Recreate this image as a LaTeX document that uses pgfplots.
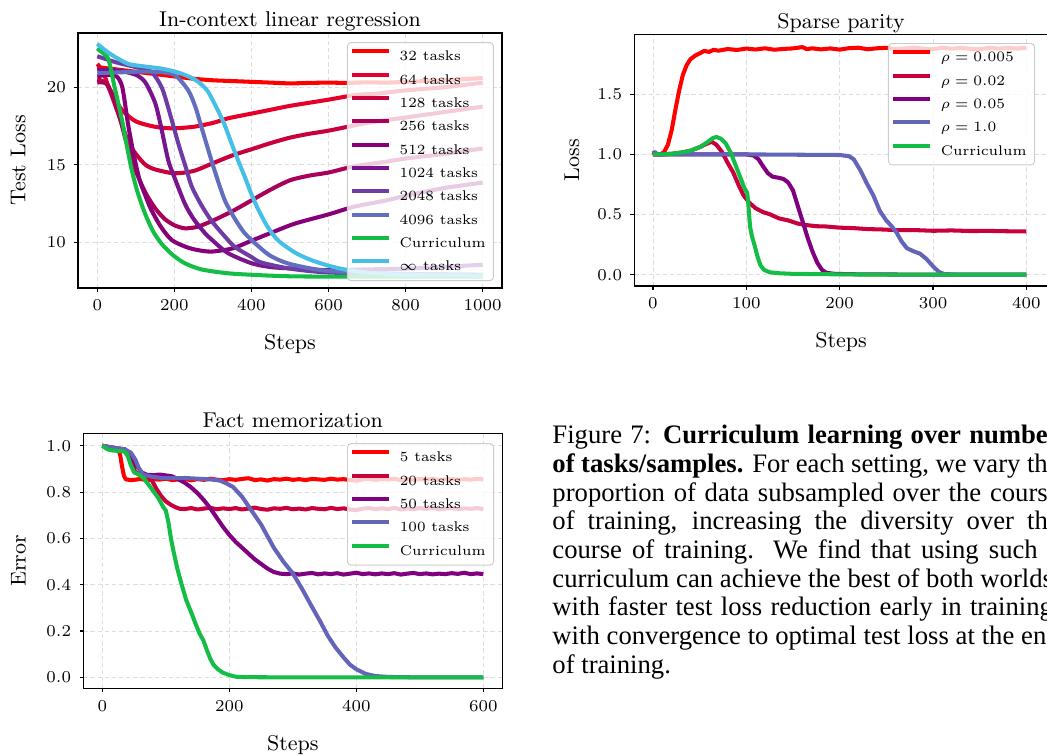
\documentclass[border=0pt]{standalone}
\usepackage{fontspec}
\usepackage{pgfplots}
\pgfplotsset{compat=1.18}
\newfontfamily\capfont{Liberation Serif}

\definecolor{c32}{RGB}{255,0,0}
\definecolor{c64}{RGB}{228,0,40}
\definecolor{c128}{RGB}{200,0,60}
\definecolor{c256}{RGB}{170,0,90}
\definecolor{c512}{RGB}{135,0,120}
\definecolor{c1024}{RGB}{120,20,140}
\definecolor{c2048}{RGB}{110,60,165}
\definecolor{c4096}{RGB}{100,110,190}
\definecolor{cgreen}{RGB}{20,190,70}
\definecolor{ccyan}{RGB}{70,190,230}
\definecolor{cpurple}{RGB}{128,0,128}
\definecolor{cslate}{RGB}{100,100,185}

\pgfplotsset{
  rplot/.style={
    scale only axis, anchor=south west,
    axis line style={line width=0.5pt},
    tick align=outside, tick pos=left, major tick length=1.6pt,
    tick style={line width=0.5pt, black},
    grid=major, grid style={dash pattern=on 1.8pt off 1.2pt, line width=0.35pt, black!13},
    ticklabel style={font=\fontsize{7.5}{9}\selectfont},
    label style={font=\fontsize{9}{11}\selectfont},
    title style={font=\fontsize{9}{11}\selectfont, at={(axis description cs:0.5,1)}, anchor=base, yshift=-3.4pt},
    xlabel style={at={(axis description cs:0.5,0)}, anchor=base, yshift=-26pt},
    every axis plot/.append style={line width=1.7pt, line join=round, no markers},
    legend cell align=left,
    legend image code/.code={\draw[line width=1.7pt] (0pt,2.2pt) -- (15.5pt,2.2pt);},
    legend style={font=\fontsize{5.9}{7}\selectfont, draw=black!20, fill=white,
      fill opacity=0.8, text opacity=1, draw opacity=1, rounded corners=1.5pt,
      anchor=north east, inner xsep=1pt, inner ysep=1pt, row sep=0pt,
      nodes={text height=5pt, text depth=1.5pt, inner ysep=1.65pt, inner xsep=2.3pt},
      /tikz/every odd column/.append style={column sep=1.5pt}},
    /pgf/number format/1000 sep={},
  }
}

\begin{document}
\begin{tikzpicture}
\useasboundingbox (0,0) rectangle (439.74pt,317.1pt);
\clip (0,0) rectangle (439.74pt,317.1pt);

% In-context linear regression
\begin{axis}[rplot,
  at={(32.76pt,196.14pt)}, width=178.08pt, height=107.1pt,
  xmin=-50, xmax=1050, ymin=7.05, ymax=23.5,
  xtick={0,200,400,600,800,1000}, ytick={10,15,20},
  title={In-context linear regression}, xlabel={Steps}, ylabel={Test Loss},
  ylabel style={at={(axis description cs:-0.141,0.5)}, anchor=center},
  legend style={at={(axis description cs:1,1)}, xshift=-3.4pt, yshift=-3.8pt},
  every axis plot/.append style={smooth, tension=0.45},
]
\addplot[c32] coordinates {(0,21.3) (50,21.15) (100,21.0) (150,20.85) (200,20.7) (250,20.55) (300,20.45) (350,20.4) (400,20.35) (450,20.3) (500,20.25) (550,20.28) (600,20.3) (650,20.28) (700,20.32) (750,20.3) (800,20.35) (850,20.4) (900,20.45) (950,20.52) (1000,20.6)};
\addlegendentry{32 tasks}
\addplot[c64] coordinates {(0,21.5) (15,21.0) (30,20.0) (50,19.1) (65,18.5) (100,17.8) (150,17.45) (195,17.35) (250,17.45) (300,17.7) (340,18.0) (400,18.3) (450,18.55) (500,18.8) (550,19.0) (600,19.2) (670,19.5) (730,19.6) (800,19.8) (900,20.0) (1000,20.3)};
\addlegendentry{64 tasks}
\addplot[c128] coordinates {(0,20.5) (25,20.2) (50,18.6) (80,16.5) (100,15.7) (125,15.0) (150,14.7) (200,14.45) (250,14.6) (300,15.1) (350,15.6) (400,16.0) (450,16.4) (500,16.75) (550,17.0) (600,17.2) (700,17.7) (800,18.05) (900,18.4) (1000,18.75)};
\addlegendentry{128 tasks}
\addplot[c256] coordinates {(0,20.3) (25,20.2) (50,18.8) (75,16.5) (100,14.6) (125,13.2) (150,12.2) (175,11.5) (200,11.1) (227,10.9) (260,11.0) (300,11.4) (350,12.0) (400,12.7) (450,13.4) (500,14.0) (550,14.3) (600,14.5) (667,14.9) (750,15.2) (800,15.4) (900,15.7) (1000,16.05)};
\addlegendentry{256 tasks}
\addplot[c512] coordinates {(0,20.7) (25,20.8) (50,20.7) (65,20.0) (80,17.6) (95,15.6) (110,14.0) (125,13.0) (140,12.1) (165,11.0) (193,10.15) (230,9.7) (260,9.5) (296,9.4) (350,9.6) (400,10.1) (450,10.6) (512,11.2) (600,11.8) (667,12.3) (750,12.7) (800,13.0) (900,13.5) (1000,13.85)};
\addlegendentry{512 tasks}
\addplot[c1024] coordinates {(0,21.1) (50,21.1) (100,20.8) (125,20.3) (150,19.0) (165,17.5) (184,15.3) (200,14.2) (227,12.5) (250,11.5) (279,10.6) (300,10.1) (339,9.3) (400,8.65) (450,8.4) (512,8.3) (600,8.2) (700,8.25) (800,8.3) (900,8.42) (1000,8.55)};
\addlegendentry{1024 tasks}
\addplot[c2048] coordinates {(0,22.0) (50,21.6) (100,21.3) (140,21.0) (167,20.0) (185,18.6) (210,16.4) (230,14.8) (245,13.6) (270,12.4) (296,11.4) (330,10.4) (357,9.7) (400,9.05) (425,8.7) (500,8.3) (600,8.05) (800,7.95) (1000,7.9)};
\addlegendentry{2048 tasks}
\addplot[c4096] coordinates {(0,20.9) (100,21.0) (150,21.0) (200,20.8) (236,19.8) (255,18.7) (270,17.45) (296,15.3) (310,14.2) (331,12.7) (355,11.6) (382,10.6) (420,9.7) (451,9.1) (500,8.6) (600,8.15) (800,7.95) (1000,7.9)};
\addlegendentry{4096 tasks}
\addplot[cgreen] coordinates {(0,22.5) (15,22.2) (29,21.8) (45,20.0) (64,17.9) (77,16.2) (90,14.6) (105,13.2) (124,11.85) (145,10.7) (167,9.9) (195,9.2) (227,8.65) (270,8.25) (339,8.0) (420,7.88) (512,7.8) (700,7.78) (1000,7.78)};
\addlegendentry{Curriculum}
\addplot[ccyan] coordinates {(0,22.8) (25,22.3) (50,21.9) (81,21.5) (120,21.35) (167,21.2) (210,20.95) (253,20.5) (285,19.8) (313,18.5) (330,17.6) (348,16.4) (365,15.3) (383,14.2) (400,13.1) (420,12.0) (443,10.95) (470,10.1) (512,9.35) (550,8.9) (598,8.5) (650,8.2) (700,8.05) (800,7.9) (1000,7.85)};
\addlegendentry{$\infty$ tasks}
\end{axis}

% Sparse parity
\begin{axis}[rplot,
  at={(266.4pt,196.98pt)}, width=173.7pt, height=105.7pt,
  xmin=-20, xmax=423, ymin=-0.094, ymax=1.998,
  xtick={0,100,200,300,400}, ytick={0,0.5,1.0,1.5},
  yticklabel style={/pgf/number format/.cd, fixed, fixed zerofill, precision=1},
  title={Sparse parity}, xlabel={Steps}, ylabel={Loss},
  ylabel style={at={(axis description cs:-0.151,0.5)}, anchor=center},
  legend style={at={(axis description cs:1,1)}, xshift=-5.4pt, yshift=-3.65pt},
]
\addplot[c32] coordinates {(0,1.02) (3,1.0) (8,1.0) (12,1.02) (16,1.08) (20,1.2) (24,1.37) (28,1.53) (32,1.66) (36,1.74) (40,1.79) (45,1.82) (50,1.84) (55,1.86) (60,1.852) (65,1.87) (70,1.862) (80,1.876) (90,1.868) (100,1.88) (110,1.872) (120,1.882) (130,1.87) (140,1.877) (150,1.881) (160,1.892) (165,1.874) (170,1.882) (180,1.873) (190,1.881) (200,1.871) (210,1.883) (220,1.887) (230,1.874) (240,1.882) (250,1.886) (260,1.876) (270,1.881) (280,1.887) (290,1.879) (300,1.874) (310,1.886) (320,1.879) (330,1.885) (340,1.878) (350,1.874) (360,1.886) (370,1.879) (380,1.885) (390,1.88) (400,1.886)};
\addlegendentry{$\rho = 0.005$}
\addplot[c128] coordinates {(0,1.0) (10,1.0) (20,1.005) (30,1.015) (40,1.03) (50,1.06) (58,1.09) (63,1.105) (68,1.08) (74,1.02) (80,0.93) (86,0.85) (92,0.74) (97,0.66) (103,0.6) (110,0.552) (118,0.52) (125,0.503) (135,0.468) (145,0.451) (155,0.425) (165,0.412) (175,0.403) (185,0.401) (200,0.391) (215,0.387) (230,0.379) (245,0.376) (260,0.371) (280,0.371) (300,0.365) (320,0.368) (340,0.363) (360,0.364) (380,0.361) (400,0.36)};
\addlegendentry{$\rho = 0.02$}
\addplot[cpurple] coordinates {(0,1.0) (50,1.0) (100,1.0) (108,0.99) (113,0.96) (118,0.9) (123,0.845) (128,0.815) (135,0.805) (140,0.795) (145,0.765) (150,0.7) (154,0.6) (158,0.5) (162,0.4) (166,0.3) (171,0.19) (176,0.1) (181,0.04) (186,0.015) (195,0.007) (220,0.003) (300,0.0) (400,0.0)};
\addlegendentry{$\rho = 0.05$}
\addplot[cslate] coordinates {(0,1.01) (2,1.02) (5,1.0) (100,1.0) (200,0.995) (210,0.985) (215,0.96) (222,0.87) (229,0.76) (236,0.66) (243,0.53) (250,0.45) (256,0.4) (261,0.35) (266,0.28) (272,0.22) (279,0.195) (286,0.175) (293,0.13) (300,0.07) (306,0.025) (312,0.005) (330,0.0) (400,0.0)};
\addlegendentry{$\rho = 1.0$}
\addplot[cgreen] coordinates {(0,1.0) (10,1.0) (20,1.005) (30,1.015) (40,1.03) (50,1.06) (58,1.1) (64,1.135) (68,1.145) (73,1.13) (78,1.09) (83,1.02) (88,0.92) (93,0.82) (98,0.72) (101,0.68) (102,0.6) (103,0.5) (104,0.4) (106,0.32) (109,0.24) (112,0.15) (115,0.08) (119,0.04) (125,0.02) (135,0.012) (150,0.007) (200,0.003) (250,0.0) (400,0.0)};
\addlegendentry{Curriculum}
\end{axis}

% Fact memorization
\begin{axis}[rplot,
  at={(35pt,27.97pt)}, width=176pt, height=107.1pt,
  xmin=-30, xmax=630, ymin=-0.0475, ymax=1.0535,
  xtick={0,200,400,600}, ytick={0,0.2,0.4,0.6,0.8,1.0},
  yticklabel style={/pgf/number format/.cd, fixed, fixed zerofill, precision=1},
  title={Fact memorization}, xlabel={Steps}, ylabel={Error},
  ylabel style={at={(axis description cs:-0.155,0.5)}, anchor=center},
  legend style={at={(axis description cs:1,1)}, xshift=-3.5pt, yshift=-4.1pt},
]
\addplot[c32] coordinates {(0,1.0) (10,0.995) (20,0.99) (25,0.985) (28,0.96) (31,0.91) (34,0.87) (37,0.855) (45,0.852) (50,0.853) (60,0.857) (70,0.851) (80,0.856) (90,0.854) (100,0.858) (110,0.852) (120,0.855) (130,0.857) (140,0.851) (150,0.856) (160,0.853) (170,0.858) (180,0.854) (190,0.851) (200,0.856) (210,0.853) (220,0.857) (230,0.86) (240,0.852) (250,0.855) (260,0.85) (270,0.856) (280,0.854) (290,0.858) (300,0.853) (310,0.856) (320,0.852) (330,0.857) (340,0.855) (350,0.853) (360,0.858) (370,0.854) (380,0.856) (390,0.852) (400,0.849) (410,0.855) (420,0.857) (430,0.853) (440,0.856) (450,0.854) (460,0.858) (470,0.852) (480,0.856) (490,0.853) (500,0.857) (510,0.854) (520,0.858) (530,0.852) (540,0.855) (550,0.857) (560,0.853) (570,0.856) (580,0.854) (590,0.857) (600,0.855)};
\addlegendentry{5 tasks}
\addplot[c128] coordinates {(0,1.0) (10,0.99) (20,0.988) (35,0.985) (42,0.97) (47,0.92) (52,0.885) (60,0.875) (70,0.87) (78,0.85) (85,0.815) (92,0.785) (100,0.76) (108,0.745) (115,0.735) (122,0.728) (130,0.727) (140,0.731) (150,0.725) (160,0.729) (170,0.732) (180,0.726) (190,0.73) (200,0.727) (210,0.731) (220,0.725) (230,0.729) (240,0.733) (250,0.727) (260,0.724) (270,0.73) (280,0.728) (290,0.732) (300,0.726) (310,0.729) (320,0.725) (330,0.731) (340,0.728) (350,0.726) (360,0.732) (370,0.727) (380,0.73) (390,0.725) (400,0.722) (410,0.729) (420,0.731) (430,0.726) (440,0.73) (450,0.727) (460,0.732) (470,0.725) (480,0.729) (490,0.727) (500,0.731) (510,0.728) (520,0.732) (530,0.726) (540,0.729) (550,0.731) (560,0.727) (570,0.73) (580,0.728) (590,0.731) (600,0.727)};
\addlegendentry{20 tasks}
\addplot[cpurple] coordinates {(0,1.0) (20,0.99) (35,0.985) (45,0.96) (55,0.91) (62,0.885) (70,0.875) (80,0.873) (90,0.876) (100,0.872) (110,0.868) (120,0.855) (130,0.84) (140,0.82) (150,0.795) (160,0.765) (170,0.73) (180,0.69) (190,0.65) (200,0.615) (210,0.585) (220,0.56) (230,0.535) (240,0.51) (250,0.49) (260,0.47) (270,0.455) (280,0.448) (290,0.446) (300,0.449) (310,0.444) (320,0.448) (330,0.451) (340,0.445) (350,0.449) (360,0.446) (370,0.45) (380,0.444) (390,0.448) (400,0.452) (410,0.446) (420,0.449) (430,0.445) (440,0.449) (450,0.446) (460,0.45) (470,0.444) (480,0.448) (490,0.451) (500,0.446) (510,0.449) (520,0.445) (530,0.448) (540,0.446) (550,0.45) (560,0.447) (570,0.452) (580,0.446) (590,0.449) (600,0.446)};
\addlegendentry{50 tasks}
\addplot[cslate] coordinates {(0,1.0) (20,0.99) (35,0.985) (45,0.97) (52,0.94) (58,0.9) (65,0.875) (75,0.868) (90,0.862) (110,0.86) (130,0.861) (150,0.858) (170,0.855) (185,0.85) (195,0.838) (206,0.822) (220,0.78) (235,0.72) (250,0.66) (258,0.62) (270,0.56) (285,0.5) (300,0.449) (315,0.38) (330,0.305) (342,0.247) (355,0.18) (367,0.13) (379,0.089) (390,0.055) (400,0.035) (415,0.015) (430,0.006) (450,0.002) (500,0.0) (600,0.0)};
\addlegendentry{100 tasks}
\addplot[cgreen] coordinates {(0,1.0) (8,0.985) (15,0.98) (25,0.978) (35,0.975) (40,0.955) (45,0.915) (50,0.885) (58,0.875) (65,0.86) (72,0.835) (80,0.805) (88,0.775) (96,0.735) (100,0.72) (104,0.67) (108,0.6) (112,0.545) (118,0.47) (125,0.4) (132,0.334) (140,0.28) (147,0.23) (153,0.19) (159,0.16) (165,0.115) (170,0.08) (175,0.055) (182,0.035) (190,0.02) (200,0.01) (210,0.003) (230,0.001) (300,0.0) (600,0.0)};
\addlegendentry{Curriculum}
\end{axis}

\node[anchor=north west, inner sep=0pt, text width=213pt, align=justify,
  font=\capfont\fontsize{11.2}{12.05}\selectfont] at (231.84pt,138.7pt)
  {Figure 7: \textbf{Curriculum learning over number\linebreak of tasks/samples.} For each setting, we vary the\linebreak proportion of data subsampled over the course\linebreak of training, increasing the diversity over the\linebreak course of training. We find that using such a\linebreak curriculum can achieve the best of both worlds,\linebreak with faster test loss reduction early in training,\linebreak with convergence to optimal test loss at the end\linebreak of training.};
\end{tikzpicture}
\end{document}
